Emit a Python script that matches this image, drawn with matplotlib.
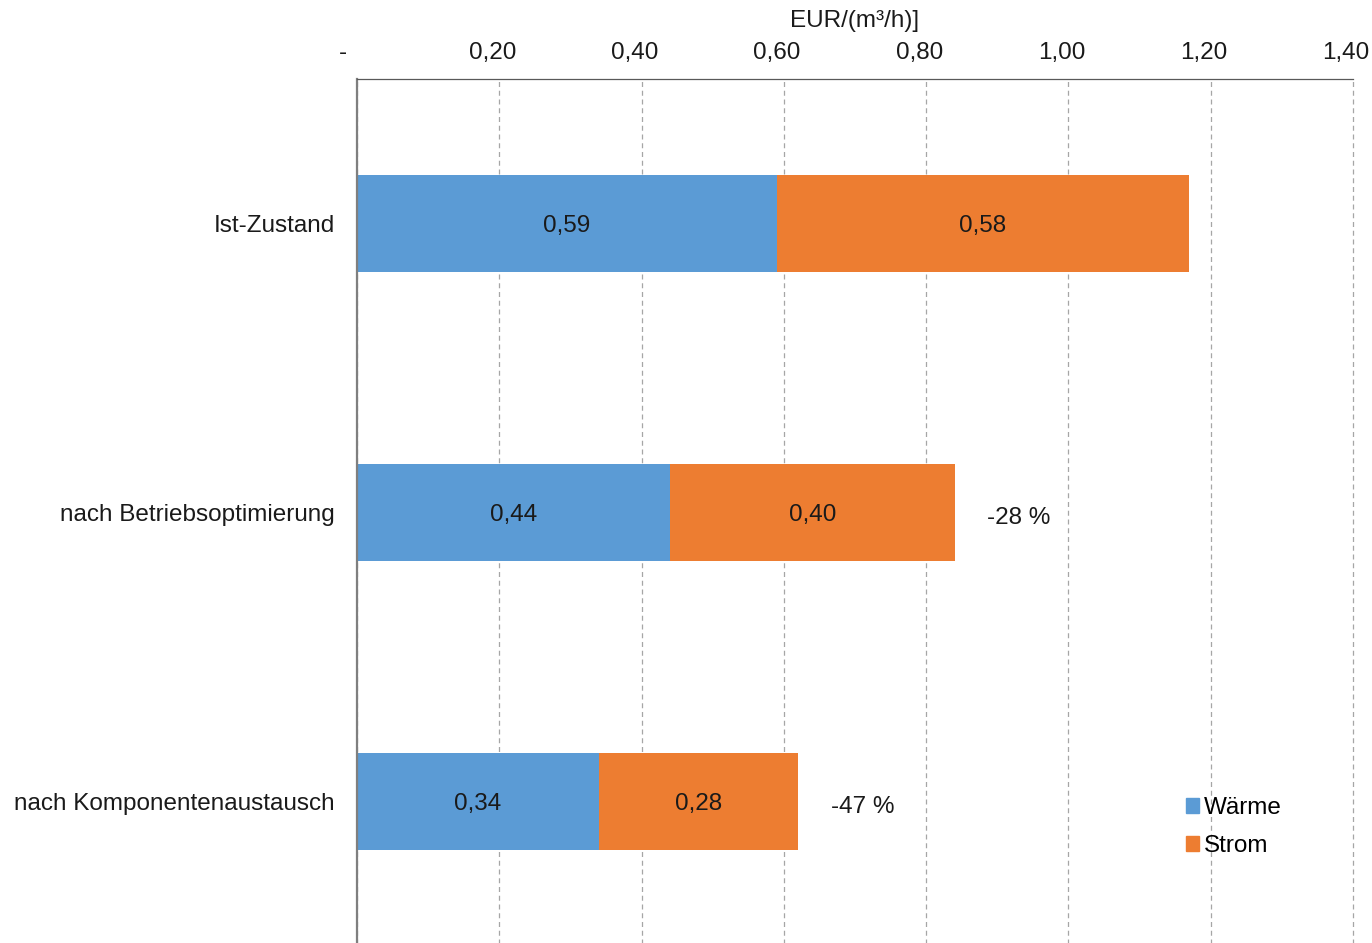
import matplotlib.pyplot as plt
import matplotlib as mpl
from matplotlib.patches import Patch
from matplotlib.transforms import ScaledTranslation

# ----------------------------------
# Data
# ----------------------------------

categories = ['Ist-Zustand', 'nach Betriebsoptimierung', 'nach Komponentenaustausch']
waerme = [0.59, 0.44, 0.34]
strom = [0.58, 0.40, 0.28]
savings = ['', '-28 %', '-47 %']
ticks = [0.0, 0.2, 0.4, 0.6, 0.8, 1.0, 1.2, 1.4]
tick_labels = ['-', '0,20', '0,40', '0,60', '0,80', '1,00', '1,20', '1,40']

BLUE = '#5B9BD5'
ORANGE = '#ED7D31'

mpl.rcParams['font.family'] = ['Liberation Sans', 'DejaVu Sans']
mpl.rcParams['font.size'] = 17.5


def fmt(v):
    return f'{v:.2f}'.replace('.', ',')


fig = plt.figure(figsize=(13.72, 9.43), dpi=100)
ax = fig.add_axes([357 / 1372, -3 / 943, 996 / 1372, 867 / 943])

y = list(range(len(categories)))
h = 0.336
ax.barh(y, waerme, height=h, color=BLUE, label='Wärme')
ax.barh(y, strom, left=waerme, height=h, color=ORANGE, label='Strom')

# value labels inside the segments
for i in y:
    ax.text(waerme[i] / 2, i, fmt(waerme[i]), ha='center', va='center_baseline', color='#1a1a1a')
    ax.text(waerme[i] + strom[i] / 2, i, fmt(strom[i]), ha='center', va='center_baseline',
            color='#1a1a1a')
    if savings[i]:
        ax.text(waerme[i] + strom[i] + 0.046, i + 0.012, savings[i],
                ha='left', va='center_baseline', color='#1a1a1a')

ax.set_xlim(0, 1.4)
ax.set_ylim(2.5, -0.5)

ax.xaxis.tick_top()
ax.xaxis.set_label_position('top')
ax.set_xticks(ticks)
ax.set_xticklabels(tick_labels)
ax.tick_params(axis='x', length=0, pad=10.5, colors='#1a1a1a')
ax.set_xlabel('EUR/(m³/h)]', labelpad=11, color='#1a1a1a')

# accounting-style labels sit a little left of their gridline
for lab, t in zip(ax.get_xticklabels(), ticks):
    dx = -14 if t == 0 else -7
    lab.set_transform(lab.get_transform() + ScaledTranslation(dx / 100, 0, fig.dpi_scale_trans))

ax.set_yticks(y)
ax.set_yticklabels(categories)
ax.tick_params(axis='y', length=0, pad=16, colors='#1a1a1a')

ax.grid(axis='x', linestyle=(0, (4, 3)), color='#A6A6A6', linewidth=0.9)
ax.set_axisbelow(True)
for gl in ax.get_xgridlines():
    gl.set_clip_on(False)

for s in ['right', 'bottom']:
    ax.spines[s].set_visible(False)
ax.spines['left'].set_color('#7F7F7F')
ax.spines['left'].set_linewidth(1.6)
ax.spines['top'].set_color('#595959')
ax.spines['top'].set_linewidth(0.9)

handles = [Patch(color=BLUE, label='Wärme'), Patch(color=ORANGE, label='Strom')]
ax.legend(handles=handles, loc='upper left', bbox_to_anchor=(829 / 996, (946 - 797) / 867),
          frameon=False, handlelength=0.55, handleheight=0.55, handletextpad=0.2,
          labelspacing=0.65, borderpad=0, borderaxespad=0)

fig.savefig('out.png', dpi=100)
